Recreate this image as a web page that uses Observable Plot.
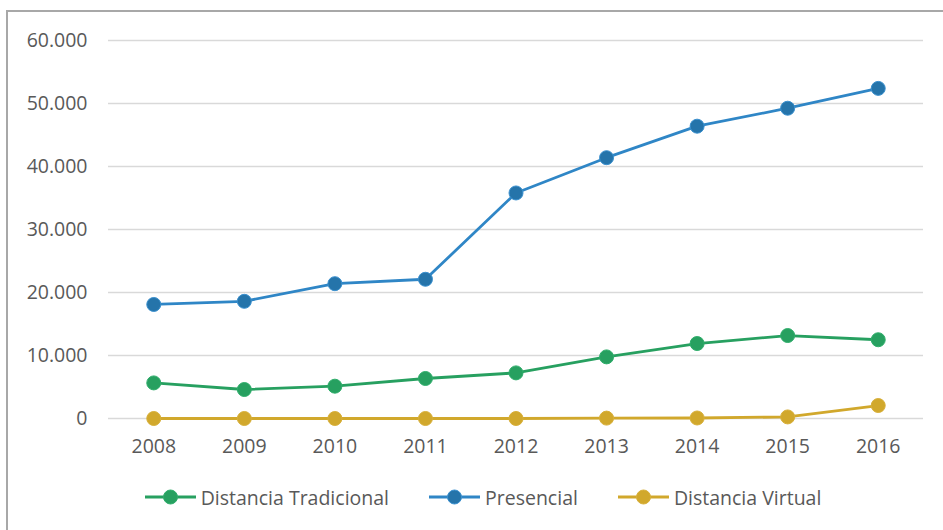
<!DOCTYPE html>
<html>
<head>
<meta charset="utf-8">
<script src="https://cdn.jsdelivr.net/npm/d3@7"></script>
<script src="https://cdn.jsdelivr.net/npm/@observablehq/plot@0.6"></script>
<style>
  html, body { margin: 0; padding: 0; background: #fff; }
  body { width: 943px; height: 530px; position: relative; overflow: hidden; font-family: "Open Sans", sans-serif; }
  #frame { position: absolute; left: 6px; top: 10px; width: 1000px; height: 1000px; border: 2px solid #a8a8a8; box-sizing: border-box; }
  #chart { position: absolute; left: 0; top: 0; }
  #legend { position: absolute; left: 0; width: 966px; top: 484px; height: 26px; display: flex; justify-content: center; align-items: center; gap: 40px; color: #595959; font-size: 19.5px; }
  .item { display: flex; align-items: center; gap: 5px; white-space: nowrap; }
  .item svg { display: block; }
</style>
</head>
<body>
<div id="frame"></div>
<div id="chart"></div>
<div id="legend"></div>
<script>
const years = ["2008", "2009", "2010", "2011", "2012", "2013", "2014", "2015", "2016"];
const tradicional = [5650, 4600, 5130, 6350, 7240, 9780, 11900, 13170, 12500];
const presencial = [18100, 18600, 21400, 22100, 35800, 41400, 46400, 49250, 52400];
const virtual = [0, 0, 0, 0, 0, 60, 80, 250, 2060];
const seriesNames = ["Distancia Tradicional", "Presencial", "Distancia Virtual"];
const yTicks = [0, 10000, 20000, 30000, 40000, 50000, 60000];

const seriesValues = [tradicional, presencial, virtual];
const lineColors = ["#27a060", "#2f86c6", "#d1a82c"];
const dotFills = ["#27a060", "#2574aa", "#d1a82c"];
const dotStrokes = ["#2fae6b", "#3a90cf", "#d8b03a"];

const fmt = d => d3.format(",")(d).replace(/,/g, ".");

const marks = [
  Plot.gridY(yTicks, { stroke: "#d9d9d9", strokeOpacity: 1, strokeWidth: 1.5 }),
  Plot.axisY(yTicks, { tickSize: 0, tickPadding: 21, tickFormat: fmt, label: null, fontSize: 19.5 }),
  Plot.axisX({ tickSize: 0, tickPadding: 21, label: null, fontSize: 19.5 })
];
seriesValues.forEach((vals, i) => {
  const data = years.map((y, j) => ({ year: y, value: vals[j] }));
  marks.push(Plot.line(data, { x: "year", y: "value", stroke: lineColors[i], strokeWidth: 2.8 }));
  marks.push(Plot.dot(data, { x: "year", y: "value", r: 7, fill: dotFills[i], stroke: dotStrokes[i], strokeWidth: 1 }));
});

const chart = Plot.plot({
  width: 943,
  height: 470,
  marginLeft: 108,
  marginRight: 20,
  marginTop: 40,
  marginBottom: 52,
  style: { fontFamily: "Open Sans", fontSize: "19.5px", color: "#595959", background: "transparent", overflow: "visible" },
  x: { type: "point", domain: years, padding: 0.5, round: false },
  y: { domain: [0, 60000] },
  marks
});
document.getElementById("chart").appendChild(chart);

const legend = document.getElementById("legend");
seriesNames.forEach((name, i) => {
  const item = document.createElement("div");
  item.className = "item";
  item.innerHTML = `<svg width="51" height="16"><line x1="0" x2="51" y1="8" y2="8" stroke="${lineColors[i]}" stroke-width="2.8"/><circle cx="25.5" cy="8" r="7" fill="${dotFills[i]}" stroke="${dotStrokes[i]}"/></svg><span>${name}</span>`;
  legend.appendChild(item);
});
</script>
</body>
</html>
